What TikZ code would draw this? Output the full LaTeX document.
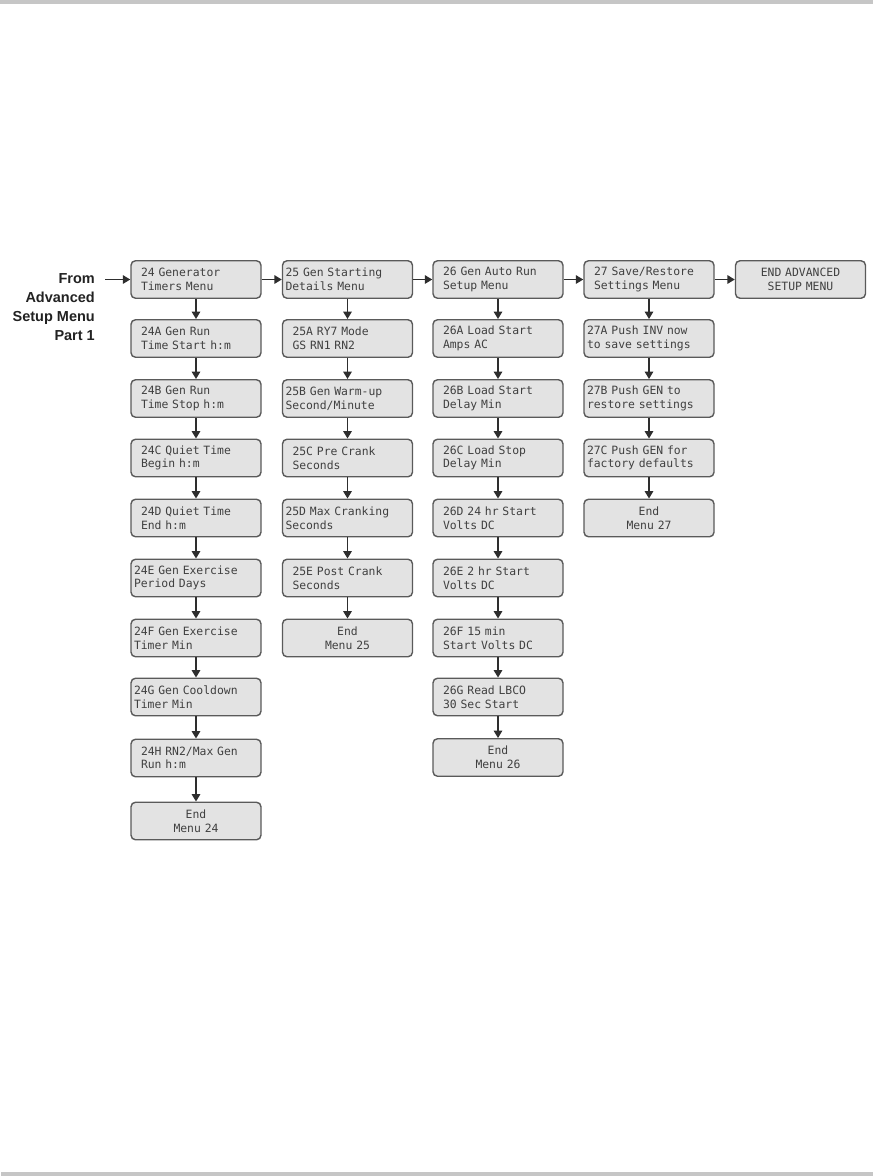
\documentclass[tikz,border=0pt]{standalone}
\usepackage{fontspec}
\setmainfont{Liberation Sans}
\newfontfamily\lcdfont{DejaVu Sans Mono}
\usetikzlibrary{arrows.meta}
\definecolor{bar}{HTML}{C6C6C6}
\definecolor{boxfill}{HTML}{E3E3E3}
\definecolor{boxline}{HTML}{5A5A5A}
\definecolor{boxtext}{HTML}{404040}
\definecolor{arrowc}{HTML}{2E2E2E}
\definecolor{labeltext}{HTML}{222222}
\begin{document}
\begin{tikzpicture}[x=1pt,y=-1pt,
  menubox/.style={draw=boxline, line width=1.4pt, fill=boxfill, rounded corners=4.5pt,
    minimum width=130pt, minimum height=37.5pt, inner ysep=0pt, inner xsep=10pt,
    text width=110pt, align=left, font=\fontsize{11.4}{13.6}\lcdfont, text=boxtext},
  wide/.style={inner xsep=3pt, text width=124pt},
  endbox/.style={align=center},
  flow/.style={draw=arrowc, line width=1.6pt, -{Triangle[length=7.5pt,width=8.5pt]}},
  fromlabel/.style={anchor=east, align=right, inner sep=0pt,
    font=\fontsize{14.5}{18.8}\selectfont\bfseries, text=labeltext}
]
\useasboundingbox (0,0) rectangle (873,1176);
\fill[bar] (0,0) rectangle (873,3.7);
\fill[bar] (1,1172) rectangle (873,1176);

% left label
\node[fromlabel] (from) at (95,307) {From\\Advanced\\Setup Menu\\Part 1};
\coordinate (fs) at (105,279.5);

% column 24
\node[menubox] (m24) at (196,279.5) {24 Generator\\Timers Menu};
\node[menubox] (m24a) at (196,338.5) {24A Gen Run\\Time Start h:m};
\node[menubox] (m24b) at (196,398.5) {24B Gen Run\\Time Stop h:m};
\node[menubox] (m24c) at (196,458) {24C Quiet Time\\Begin h:m};
\node[menubox] (m24d) at (196,518) {24D Quiet Time\\End h:m};
\node[menubox,wide] (m24e) at (196,578) {24E Gen Exercise\\Period Days};
\node[menubox,wide] (m24f) at (196,638) {24F Gen Exercise\\Timer Min};
\node[menubox,wide] (m24g) at (196,697) {24G Gen Cooldown\\Timer Min};
\node[menubox] (m24h) at (196,758) {24H RN2/Max Gen\\Run h:m};
\node[menubox,endbox] (e24) at (196,821) {End\\Menu 24};

% column 25
\node[menubox,wide] (m25) at (347.5,279.5) {25 Gen Starting\\Details Menu};
\node[menubox] (m25a) at (347.5,338.5) {25A RY7 Mode\\GS RN1 RN2};
\node[menubox,wide] (m25b) at (347.5,398.5) {25B Gen Warm-up\\Second/Minute};
\node[menubox] (m25c) at (347.5,458) {25C Pre Crank\\Seconds};
\node[menubox,wide] (m25d) at (347.5,518) {25D Max Cranking\\Seconds};
\node[menubox] (m25e) at (347.5,578) {25E Post Crank\\Seconds};
\node[menubox,endbox] (e25) at (347.5,638) {End\\Menu 25};

% column 26
\node[menubox] (m26) at (498,279.5) {26 Gen Auto Run\\Setup Menu};
\node[menubox] (m26a) at (498,338.5) {26A Load Start\\Amps AC};
\node[menubox] (m26b) at (498,398.5) {26B Load Start\\Delay Min};
\node[menubox] (m26c) at (498,458) {26C Load Stop\\Delay Min};
\node[menubox] (m26d) at (498,518) {26D 24 hr Start\\Volts DC};
\node[menubox] (m26e) at (498,578) {26E 2 hr Start\\Volts DC};
\node[menubox] (m26f) at (498,638) {26F 15 min\\Start Volts DC};
\node[menubox] (m26g) at (498,697) {26G Read LBCO\\30 Sec Start};
\node[menubox,endbox] (e26) at (498,757.5) {End\\Menu 26};

% column 27
\node[menubox] (m27) at (649,279.5) {27 Save/Restore\\Settings Menu};
\node[menubox,wide] (m27a) at (649,338.5) {27A Push INV now\\to save settings};
\node[menubox,wide] (m27b) at (649,398.5) {27B Push GEN to\\restore settings};
\node[menubox,wide] (m27c) at (649,458) {27C Push GEN for\\factory defaults};
\node[menubox,endbox] (e27) at (649,518) {End\\Menu 27};

% end
\node[menubox,endbox] (eadv) at (800.5,279.5) {END ADVANCED\\SETUP MENU};

% horizontal connectors
\draw[flow] (fs) -- (m24.west);
\draw[flow] (m24.east) -- (m25.west);
\draw[flow] (m25.east) -- (m26.west);
\draw[flow] (m26.east) -- (m27.west);
\draw[flow] (m27.east) -- (eadv.west);

% vertical connectors
\foreach \a/\b in {m24/m24a,m24a/m24b,m24b/m24c,m24c/m24d,m24d/m24e,m24e/m24f,m24f/m24g,m24g/m24h,m24h/e24,
  m25/m25a,m25a/m25b,m25b/m25c,m25c/m25d,m25d/m25e,m25e/e25,
  m26/m26a,m26a/m26b,m26b/m26c,m26c/m26d,m26d/m26e,m26e/m26f,m26f/m26g,m26g/e26,
  m27/m27a,m27a/m27b,m27b/m27c,m27c/e27}
  \draw[flow] (\a.south) -- (\b.north);
\end{tikzpicture}
\end{document}
